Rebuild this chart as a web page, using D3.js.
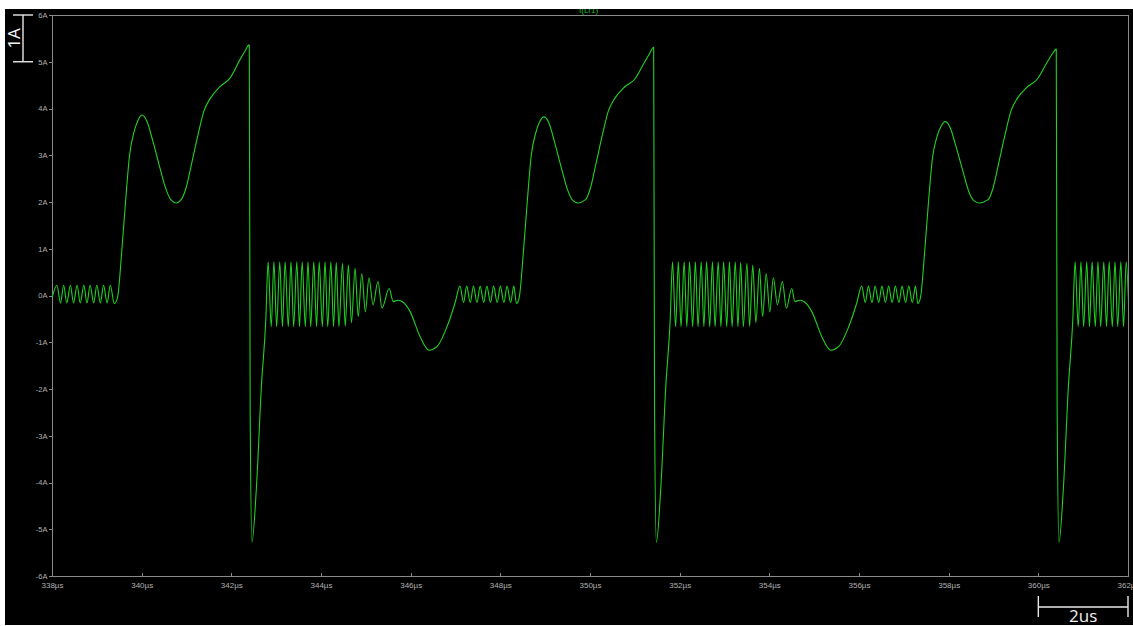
<!DOCTYPE html>
<html>
<head>
<meta charset="utf-8">
<script src="https://cdn.jsdelivr.net/npm/d3@7"></script>
<style>
  html, body { margin: 0; padding: 0; background: #ffffff; }
  svg { display: block; }
</style>
</head>
<body>
<svg id="chart" width="1133" height="626"></svg>
<script>
// ---- Data (time in µs, current in A) ----
const xTicks = [338, 340, 342, 344, 346, 348, 350, 352, 354, 356, 358, 360, 362];
const yTicks = [-6, -5, -4, -3, -2, -1, 0, 1, 2, 3, 4, 5, 6];
const traceLabel = "I(Lr1)";
const scaleBarY = "1A";
const scaleBarX = "2us";

// cycle 1: idle ringing, pulse, reverse spike, ringing, dip
const cycle1 = [
  [338.00,-0.05],[338.11,0.22],[338.19,-0.16],[338.26,0.22],[338.33,-0.16],[338.41,0.22],
  [338.48,-0.16],[338.56,0.22],[338.63,-0.16],[338.71,0.22],[338.78,-0.16],[338.85,0.22],
  [338.93,-0.16],[339.00,0.22],[339.08,-0.16],[339.15,0.22],[339.23,-0.16],[339.30,0.22],
  [339.39,-0.17],[339.46,-0.05],[339.56,1.00],[339.64,2.00],[339.73,3.00],[339.83,3.50],
  [339.92,3.75],[340.01,3.86],[340.12,3.72],[340.25,3.30],[340.41,2.72],[340.54,2.28],
  [340.65,2.05],[340.77,1.98],[340.88,2.05],[340.99,2.30],[341.12,2.85],[341.26,3.45],
  [341.39,3.95],[341.52,4.20],[341.75,4.47],[341.97,4.65],[342.19,5.04],[342.30,5.22],
  [342.40,5.36],[342.42,-2.45],[342.46,-5.27],[342.56,-4.10],[342.67,-1.95],[342.77,-0.50],
  [342.82,0.72],[342.89,-0.67],[342.95,0.72],[343.01,-0.67],[343.08,0.72],[343.14,-0.67],
  [343.20,0.72],[343.27,-0.67],[343.33,0.72],[343.39,-0.67],[343.46,0.72],[343.52,-0.67],
  [343.58,0.72],[343.65,-0.67],[343.71,0.72],[343.77,-0.67],[343.84,0.72],[343.90,-0.67],
  [343.96,0.72],[344.03,-0.67],[344.09,0.72],[344.15,-0.67],[344.22,0.72],[344.28,-0.67],
  [344.34,0.71],[344.40,-0.67],[344.48,0.69],[344.54,-0.66],[344.61,0.65],[344.68,-0.58],
  [344.76,0.58],[344.83,-0.45],[344.91,0.47],[344.99,-0.35],[345.07,0.38],[345.16,-0.20],
  [345.27,0.30],[345.36,-0.27],[345.52,0.15],[345.61,-0.13],[345.72,-0.10],[345.81,-0.13],
  [345.99,-0.35],[346.21,-0.88],[346.41,-1.17],[346.59,-1.09],[346.81,-0.67],[346.99,-0.16],
  [347.10,0.20],[347.18,-0.15],[347.25,0.20],[347.33,-0.15],[347.40,0.20],[347.48,-0.15],
  [347.55,0.20],[347.63,-0.15],[347.70,0.20],[347.78,-0.15],[347.85,0.20],[347.93,-0.15],
  [348.00,0.20],[348.08,-0.15],[348.15,0.20],[348.23,-0.15],[348.30,0.20],[348.36,-0.17]
];

const cycle2 = [
  [348.42,-0.05],[348.52,1.00],[348.60,2.00],[348.69,3.00],[348.79,3.48],[348.88,3.72],
  [348.97,3.82],[349.08,3.70],[349.21,3.28],[349.37,2.70],[349.50,2.26],[349.61,2.04],
  [349.73,1.98],[349.90,2.05],[350.01,2.30],[350.14,2.85],[350.28,3.45],[350.41,3.95],
  [350.54,4.20],[350.77,4.46],[350.99,4.62],[351.21,4.98],[351.32,5.16],[351.42,5.31],
  [351.44,-2.45],[351.48,-5.28],[351.58,-4.10],[351.69,-1.95],[351.79,-0.50],
  [351.84,0.72],[351.91,-0.67],[351.97,0.72],[352.03,-0.67],[352.10,0.72],[352.16,-0.67],
  [352.22,0.72],[352.29,-0.67],[352.35,0.72],[352.41,-0.67],[352.48,0.72],[352.54,-0.67],
  [352.60,0.72],[352.67,-0.67],[352.73,0.72],[352.79,-0.67],[352.86,0.72],[352.92,-0.67],
  [352.98,0.72],[353.05,-0.67],[353.11,0.72],[353.17,-0.67],[353.24,0.72],[353.30,-0.67],
  [353.36,0.71],[353.42,-0.67],[353.50,0.69],[353.56,-0.66],[353.63,0.65],[353.70,-0.58],
  [353.78,0.58],[353.85,-0.45],[353.93,0.47],[354.01,-0.35],[354.09,0.38],[354.18,-0.20],
  [354.29,0.30],[354.38,-0.27],[354.50,0.15],[354.57,-0.13],[354.68,-0.10],[354.77,-0.13],
  [354.95,-0.35],[355.17,-0.88],[355.37,-1.17],[355.55,-1.09],[355.77,-0.67],[355.95,-0.16],
  [356.06,0.20],[356.14,-0.15],[356.21,0.20],[356.29,-0.15],[356.36,0.20],[356.44,-0.15],
  [356.51,0.20],[356.59,-0.15],[356.66,0.20],[356.74,-0.15],[356.81,0.20],[356.89,-0.15],
  [356.96,0.20],[357.04,-0.15],[357.11,0.20],[357.19,-0.15],[357.26,0.20],[357.31,-0.17]
];

const cycle3 = [
  [357.37,-0.05],[357.47,1.00],[357.55,2.00],[357.64,2.95],[357.74,3.40],[357.83,3.62],
  [357.92,3.72],[358.03,3.60],[358.16,3.20],[358.32,2.65],[358.45,2.22],[358.56,2.03],
  [358.68,1.98],[358.88,2.05],[358.99,2.30],[359.12,2.85],[359.26,3.45],[359.39,3.95],
  [359.52,4.20],[359.75,4.46],[359.97,4.62],[360.19,4.98],[360.30,5.15],[360.40,5.27],
  [360.42,-2.45],[360.46,-5.28],[360.56,-4.10],[360.67,-1.95],[360.77,-0.50],
  [360.82,0.72],[360.89,-0.67],[360.95,0.72],[361.01,-0.67],[361.08,0.72],[361.14,-0.67],
  [361.20,0.72],[361.27,-0.67],[361.33,0.72],[361.39,-0.67],[361.46,0.72],[361.52,-0.67],
  [361.58,0.72],[361.65,-0.67],[361.71,0.72],[361.77,-0.67],[361.84,0.72],[361.90,-0.67],
  [361.96,0.72],[362.03,-0.67]
];

// ---- Layout ----
const W = 1133, H = 626;
const plot = { left: 52, right: 1128, top: 15, bottom: 576 };
const svg = d3.select("#chart");

const x = d3.scaleLinear().domain([338, 362]).range([plot.left, plot.right]);
const y = d3.scaleLinear().domain([-6, 6]).range([plot.bottom, plot.top]);

const defs = svg.append("defs");
defs.append("clipPath").attr("id", "canvasClip")
  .append("rect").attr("x", 5).attr("y", 9).attr("width", W - 5).attr("height", 616);
defs.append("clipPath").attr("id", "plotClip")
  .append("rect").attr("x", plot.left).attr("y", plot.top)
  .attr("width", plot.right - plot.left).attr("height", plot.bottom - plot.top);

// black canvas
svg.append("rect").attr("x", 5).attr("y", 9).attr("width", W - 5).attr("height", 616)
  .attr("fill", "#000000");

const canvas = svg.append("g").attr("clip-path", "url(#canvasClip)");

const axisColor = "#8a8a8a";
const labelColor = "#b0b0b0";
const labelFont = "Liberation Sans, Arial, sans-serif";

// frame
canvas.append("rect").attr("x", plot.left).attr("y", plot.top)
  .attr("width", plot.right - plot.left).attr("height", plot.bottom - plot.top)
  .attr("fill", "none").attr("stroke", axisColor).attr("stroke-width", 1)
  .attr("shape-rendering", "crispEdges");

// left axis
const yAxis = d3.axisLeft(y).tickValues(yTicks).tickSizeInner(3).tickSizeOuter(0)
  .tickPadding(1.5).tickFormat(d => d + "A");
const gy = canvas.append("g").attr("transform", `translate(${plot.left},0)`).call(yAxis);
gy.select(".domain").remove();
gy.selectAll("line").attr("stroke", axisColor).attr("shape-rendering", "crispEdges");
gy.selectAll("text").attr("fill", labelColor).attr("font-size", 7.5)
  .attr("font-family", labelFont);

// bottom axis
const xAxis = d3.axisBottom(x).tickValues(xTicks).tickSizeInner(-3).tickSizeOuter(0)
  .tickPadding(6).tickFormat(d => d + "µs");
const gx = canvas.append("g").attr("transform", `translate(0,${plot.bottom})`).call(xAxis);
gx.select(".domain").remove();
gx.selectAll("line").attr("stroke", axisColor).attr("shape-rendering", "crispEdges");
gx.selectAll("text").attr("fill", labelColor).attr("font-size", 8)
  .attr("font-family", labelFont);

// trace label (clipped at top like the reference)
canvas.append("text").attr("x", 579).attr("y", 13)
  .attr("fill", "#1fbf1f").attr("font-size", 8).attr("font-family", labelFont)
  .text(traceLabel);

// trace
const trace = cycle1.concat(cycle2, cycle3);
const line = d3.line().x(d => x(d[0])).y(d => y(d[1])).curve(d3.curveMonotoneX);
canvas.append("g").attr("clip-path", "url(#plotClip)")
  .append("path").datum(trace)
  .attr("d", line).attr("fill", "none")
  .attr("stroke", "#22d022").attr("stroke-width", 1.1).attr("stroke-linejoin", "round");

// scale bar: 1A (vertical)
const barColor = "#e8e8e8";
const sb = canvas.append("g").attr("stroke", barColor).attr("stroke-width", 1.4);
const bx = 23;
sb.append("line").attr("x1", bx).attr("x2", bx).attr("y1", y(6)).attr("y2", y(5));
sb.append("line").attr("x1", 13).attr("x2", 33).attr("y1", y(6)).attr("y2", y(6));
sb.append("line").attr("x1", 13).attr("x2", 33).attr("y1", y(5)).attr("y2", y(5));
canvas.append("text").attr("transform", `translate(20,${(y(6) + y(5)) / 2}) rotate(-90)`)
  .attr("text-anchor", "middle").attr("fill", "#f2f2f2")
  .attr("font-size", 17).attr("font-family", "Open Sans, sans-serif").text(scaleBarY);

// scale bar: 2us (horizontal), spanning 360–362 µs
const by = 607;
const bx0 = x(360), bx1 = x(362);
sb.append("line").attr("x1", bx0).attr("x2", bx1).attr("y1", by).attr("y2", by);
sb.append("line").attr("x1", bx0).attr("x2", bx0).attr("y1", 596).attr("y2", 617);
sb.append("line").attr("x1", bx1).attr("x2", bx1).attr("y1", 596).attr("y2", 617);
canvas.append("text").attr("x", (bx0 + bx1) / 2).attr("y", 622)
  .attr("text-anchor", "middle").attr("fill", "#f2f2f2")
  .attr("font-size", 17).attr("font-family", "Open Sans, sans-serif").text(scaleBarX);
</script>
</body>
</html>
